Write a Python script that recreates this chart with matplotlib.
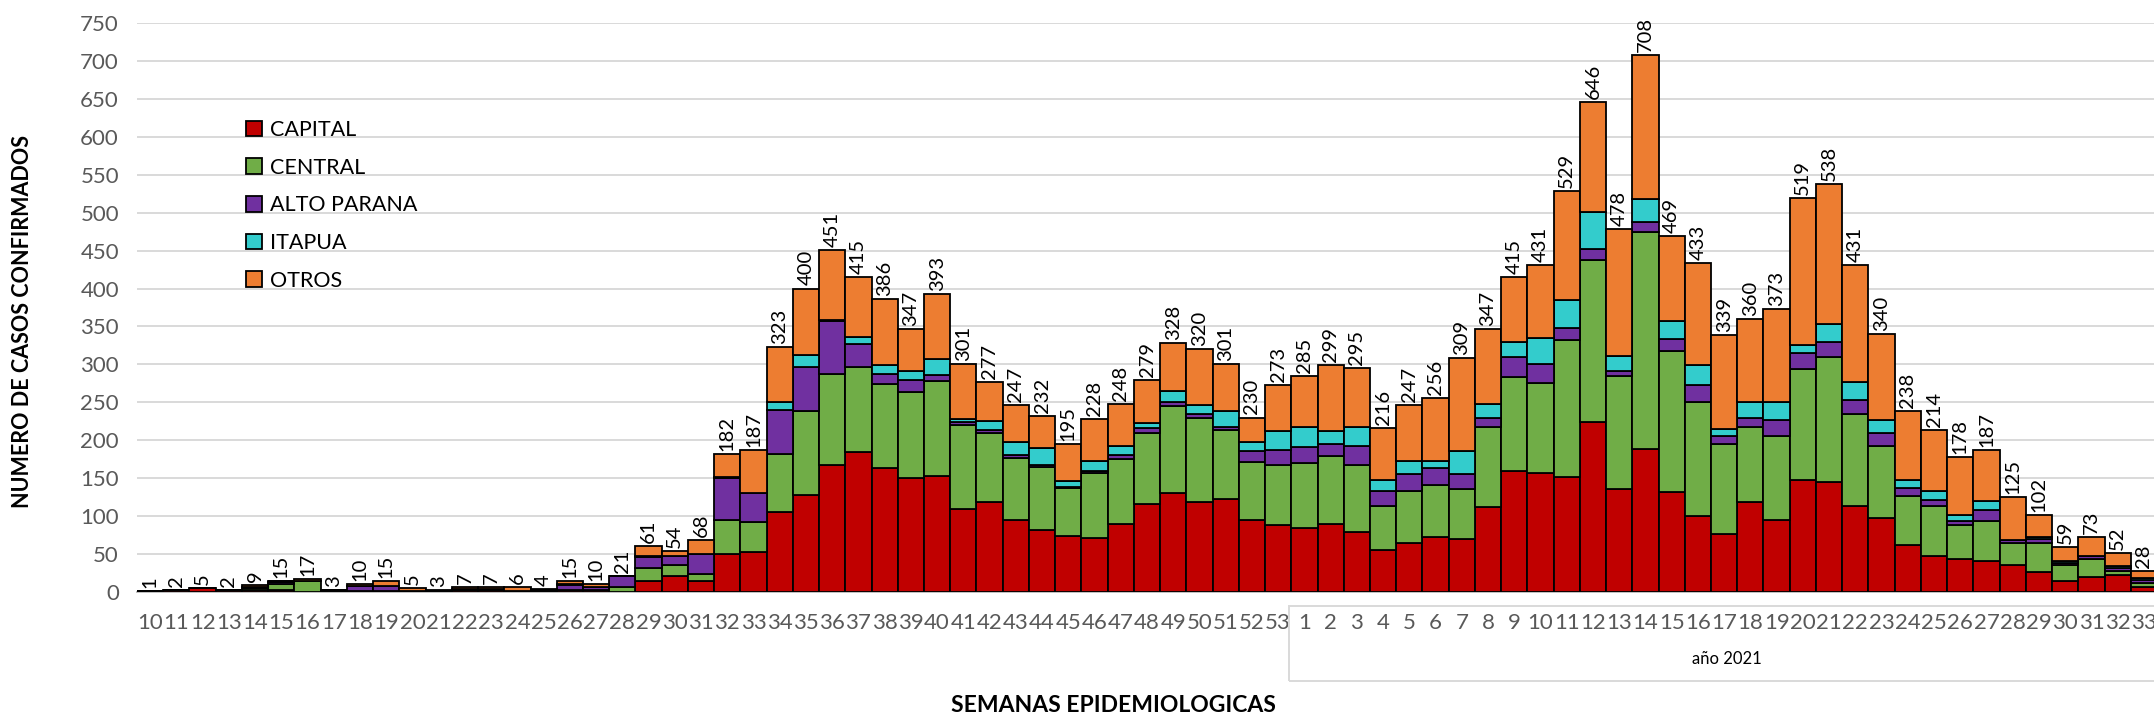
import matplotlib.pyplot as plt
from matplotlib.patches import Patch, Rectangle
import numpy as np

plt.rcParams['font.family'] = ['Lato', 'DejaVu Sans']

# semanas epidemiologicas: 10..53 (2020) y 1..33 (2021)
semanas = [str(w) for w in range(10, 54)] + [str(w) for w in range(1, 34)]

capital = [1, 2, 5, 2, 3, 3, 0, 1, 0, 1, 1, 1, 2, 2, 1, 1, 2, 2, 0, 15,
           21, 15, 50, 53, 105, 128, 167, 184, 164, 150, 153, 109, 119, 95, 82, 74, 71, 89, 116, 130,
           119, 122, 95, 88,
           85, 90, 79, 55, 64, 73, 70, 112, 159, 157, 151, 224, 136, 189, 132, 100, 76, 119, 95, 147,
           145, 113, 98, 62, 48, 44, 41, 35, 27, 15, 20, 23, 6]
central = [0, 0, 0, 0, 2, 8, 14, 1, 1, 0, 0, 0, 1, 1, 0, 1, 1, 1, 7, 16,
           14, 9, 45, 39, 77, 111, 120, 113, 110, 114, 125, 111, 90, 81, 83, 63, 86, 86, 94, 115,
           111, 92, 77, 79,
           85, 89, 89, 58, 69, 68, 66, 105, 124, 119, 181, 214, 149, 285, 186, 151, 119, 98, 111, 147,
           165, 122, 95, 64, 65, 44, 52, 30, 38, 20, 24, 5, 6]
alto_parana = [0, 0, 0, 0, 2, 2, 1, 0, 7, 7, 0, 0, 1, 1, 0, 0, 6, 3, 14, 15,
               12, 26, 55, 38, 58, 58, 70, 30, 14, 16, 8, 4, 4, 5, 3, 2, 3, 5, 6, 6,
               5, 4, 14, 20,
               21, 16, 25, 20, 23, 23, 20, 13, 27, 24, 16, 14, 6, 14, 15, 22, 11, 13, 21, 21,
               20, 18, 17, 11, 8, 6, 15, 3, 5, 3, 3, 4, 4]
itapua = [0, 0, 0, 0, 0, 1, 0, 0, 0, 0, 0, 0, 0, 0, 0, 0, 1, 0, 0, 1,
          0, 0, 2, 1, 11, 15, 2, 9, 11, 11, 21, 4, 12, 17, 22, 7, 13, 13, 7, 14,
          11, 20, 12, 25,
          26, 17, 24, 14, 17, 9, 30, 18, 20, 35, 37, 49, 20, 30, 24, 26, 9, 20, 23, 11,
          23, 24, 17, 10, 12, 8, 12, 1, 2, 3, 1, 2, 2]
otros = [0, 0, 0, 0, 2, 1, 2, 1, 2, 7, 4, 2, 3, 3, 5, 2, 5, 4, 0, 14,
         7, 18, 30, 56, 72, 88, 92, 79, 87, 56, 86, 73, 52, 49, 42, 49, 55, 55, 56, 63,
         74, 63, 32, 61,
         68, 87, 78, 69, 74, 83, 123, 99, 85, 96, 144, 145, 167, 190, 112, 134, 124, 110, 123, 193,
         185, 154, 113, 91, 81, 76, 67, 56, 30, 18, 25, 18, 10]

series = [("CAPITAL", capital, "#C00000"),
          ("CENTRAL", central, "#70AD47"),
          ("ALTO PARANA", alto_parana, "#7030A0"),
          ("ITAPUA", itapua, "#33CCCC"),
          ("OTROS", otros, "#ED7D31")]

W, H = 2154, 718
fig = plt.figure(figsize=(W / 100, H / 100), dpi=100)
ax = fig.add_axes([137 / W, 1 - 592 / H, (2157 - 137) / W, (592 - 23) / H])

x = np.arange(len(semanas))
bottom = np.zeros(len(semanas))
for name, vals, col in series:
    vals = np.array(vals)
    ax.bar(x, vals, width=1.0, bottom=bottom, color=col, edgecolor="black",
           linewidth=1.3, zorder=3)
    bottom += vals

# total labels on top of bars
for xi, tot in zip(x, bottom):
    ax.text(xi, tot + 4, f"{int(tot)}", rotation=90, ha="center", va="bottom",
            fontsize=14.5, color="black", zorder=4)

ax.set_xlim(-0.5, len(semanas) - 0.5)
ax.set_ylim(0, 750)
ax.set_yticks(np.arange(0, 751, 50))
ax.set_xticks(x)
ax.set_xticklabels(semanas)
ax.tick_params(axis="both", length=0, labelsize=16, colors="#595959")
ax.tick_params(axis="y", pad=13)
ax.tick_params(axis="x", pad=15)
ax.grid(axis="y", color="#d9d9d9", linewidth=1.4, zorder=0)
for s in ["top", "right", "left"]:
    ax.spines[s].set_visible(False)
ax.spines["bottom"].set_color("#bfbfbf")
ax.spines["bottom"].set_linewidth(1.4)

# year box under the 2021 weeks
x0 = 1289 / W
fig.add_artist(Rectangle((x0, 1 - 681 / H), 1.0 - x0 + 0.01, (681 - 606) / H,
                         transform=fig.transFigure, fill=False,
                         edgecolor="#d9d9d9", linewidth=1.4))
fig.text(1727 / W, 1 - 659 / H, "año 2021", ha="center", va="center",
         fontsize=12, color="black")

fig.text(23 / W, 1 - 322 / H, "NUMERO DE CASOS CONFIRMADOS", rotation=90,
         ha="center", va="center", fontsize=15.5, fontweight="bold")
fig.text(1113 / W, 1 - 705 / H, "SEMANAS EPIDEMIOLOGICAS", ha="center",
         va="center", fontsize=16.5, fontweight="bold")

handles = [Patch(facecolor=c, edgecolor="black", linewidth=1.3, label=n)
           for n, _, c in series]
fig.legend(handles=handles, loc="upper left", bbox_to_anchor=(246 / W, 1 - 120 / H),
           frameon=False, fontsize=15.5, handlelength=0.75, handleheight=0.75,
           handletextpad=0.35, labelspacing=0.82, borderaxespad=0, borderpad=0)

fig.savefig("out.png", dpi=100)
